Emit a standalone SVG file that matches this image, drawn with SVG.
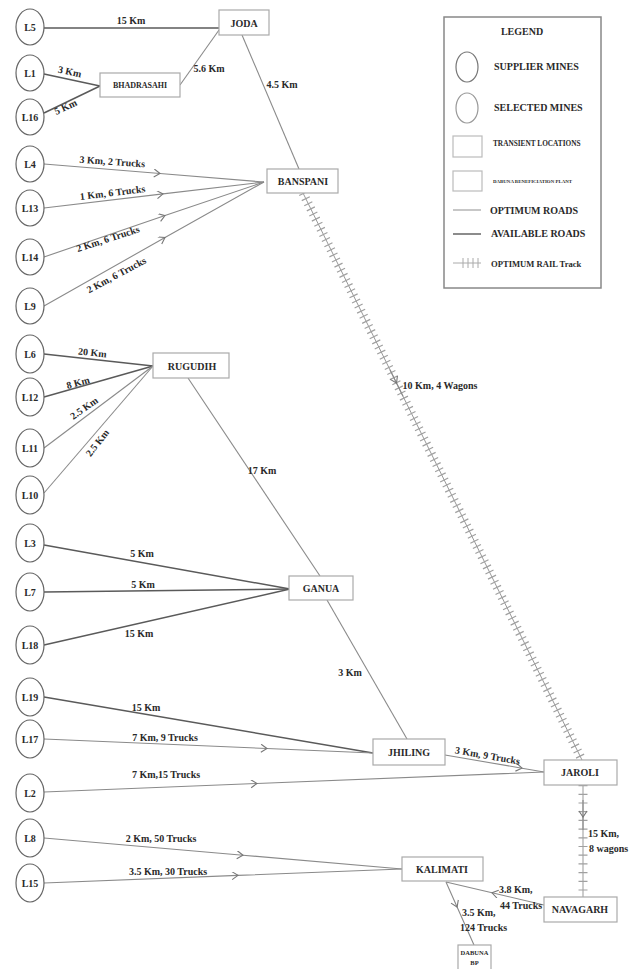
<svg xmlns="http://www.w3.org/2000/svg" width="635" height="969" viewBox="0 0 635 969">
<style>
text{font-family:"Liberation Serif","Times New Roman",serif;font-weight:bold;fill:#2a2a2a}
.n{font-size:10px;text-anchor:middle}
.lb{font-size:10px;text-anchor:middle}
.mine ellipse{fill:#fff;stroke:#666;stroke-width:1.2}
.box rect{fill:#fff;stroke:#aaa;stroke-width:1.2}
.opt{fill:none;stroke:#8a8a8a;stroke-width:1.1}
.avl{fill:none;stroke:#5a5a5a;stroke-width:1.5}
.arr{marker-mid:url(#chev)}
.railc{fill:none;stroke:#999;stroke-width:1}
.railt{fill:none;stroke:#a0a0a0;stroke-width:9;stroke-dasharray:1.2 4.5}
</style>
<defs>
<marker id="chev" markerWidth="10" markerHeight="10" refX="7" refY="4" orient="auto" markerUnits="userSpaceOnUse">
<path d="M1,0 L7,4 L1,8" fill="none" stroke="#777" stroke-width="1.1"/>
</marker>
</defs>
<rect width="635" height="969" fill="#fff"/>

<g id="connectors">
<path class="avl" d="M44,28 L219,28"/>
<path class="opt" d="M219,30 L180,85"/>
<path class="avl" d="M44,74 L100,86"/>
<path class="avl" d="M44,113 L100,86"/>
<path class="opt" d="M242,35 L299,169"/>
<path class="opt arr" d="M44,164 L160,173.5 L264,182"/>
<path class="opt arr" d="M44,208 L163,193.9 L264,182"/>
<path class="opt arr" d="M44,257 L165,215.6 L264,182"/>
<path class="opt arr" d="M44,306 L165,237.5 L264,182"/>
<path class="railc" d="M303,193 L582,760"/>
<path class="railt" d="M303,193 L582,760"/>
<path class="opt arr" d="M390,369.8 L396.5,383 L403,396.2" stroke="none"/>
<path class="avl" d="M44,354 L153,366"/>
<path class="avl" d="M44,397 L153,366"/>
<path class="opt" d="M44,448 L153,366"/>
<path class="opt" d="M44,493 L153,366"/>
<path class="opt" d="M188,378 L320,576"/>
<path class="opt" d="M327,600 L407,739"/>
<path class="avl" d="M44,545 L290,589"/>
<path class="avl" d="M44,592 L290,589"/>
<path class="avl" d="M44,645 L290,589"/>
<path class="avl" d="M44,697 L373,753"/>
<path class="opt arr" d="M44,739 L267,748.5 L373,753"/>
<path class="opt arr" d="M445,755 L522,768.2 L544,772"/>
<path class="opt arr" d="M44,792 L257,783.5 L544,772"/>
<path class="railc" d="M583,785 L583,897"/>
<path class="railt" d="M583,785 L583,897" style="stroke-dasharray:1.2 7.5"/>
<path class="opt arr" d="M583,800 L583,817 L583,830" stroke="none"/>
<path class="opt arr" d="M44,838 L243,855.2 L402,869"/>
<path class="opt arr" d="M44,883 L238,875.4 L402,869"/>
<path class="opt arr" d="M544,905 L492,892.8 L446,882"/>
<path class="opt arr" d="M446,882 L457.1,907 L474,945"/>
</g>

<g id="edge-labels">
<text class="lb" x="131" y="24">15 Km</text>
<text class="lb" x="209" y="72">5.6 Km</text>
<text class="lb" x="282" y="88">4.5 Km</text>
<text class="lb" transform="translate(69,75) rotate(12)">3 Km</text>
<text class="lb" transform="translate(67,110) rotate(-25)">5 Km</text>
<text class="lb" transform="translate(112,165) rotate(4)">3 Km, 2 Trucks</text>
<text class="lb" transform="translate(113,196) rotate(-7)">1 Km, 6 Trucks</text>
<text class="lb" transform="translate(109,242) rotate(-18)">2 Km, 6 Trucks</text>
<text class="lb" transform="translate(118,278) rotate(-28)">2 Km, 6 Trucks</text>
<text class="lb" x="440" y="389">10 Km, 4 Wagons</text>
<text class="lb" transform="translate(92,356) rotate(6)">20 Km</text>
<text class="lb" transform="translate(79,386) rotate(-15)">8 Km</text>
<text class="lb" transform="translate(86,411) rotate(-35)">2.5 Km</text>
<text class="lb" transform="translate(100,445) rotate(-52)">2.5 Km</text>
<text class="lb" x="262" y="474">17 Km</text>
<text class="lb" x="142" y="557">5 Km</text>
<text class="lb" x="143" y="588">5 Km</text>
<text class="lb" x="139" y="637">15 Km</text>
<text class="lb" x="350" y="676">3 Km</text>
<text class="lb" x="146" y="711">15 Km</text>
<text class="lb" x="165" y="741">7 Km, 9 Trucks</text>
<text class="lb" x="166" y="778">7 Km,15 Trucks</text>
<text class="lb" transform="translate(487,759) rotate(10)">3 Km, 9 Trucks</text>
<text class="lb" x="161" y="842">2 Km, 50 Trucks</text>
<text class="lb" x="168" y="875">3.5 Km, 30 Trucks</text>
<text x="588" y="837" font-size="10">15 Km,</text>
<text x="589" y="852" font-size="10">8 wagons</text>
<text x="499" y="893" font-size="10">3.8 Km,</text>
<text x="500" y="909" font-size="10">44 Trucks</text>
<text x="462" y="916" font-size="10">3.5 Km,</text>
<text x="460" y="931" font-size="10">124 Trucks</text>
</g>

<g id="L5" class="mine"><ellipse cx="30" cy="27" rx="14" ry="18"/><text class="n" x="30" y="31">L5</text></g>
<g id="L1" class="mine"><ellipse cx="30" cy="73" rx="14" ry="18"/><text class="n" x="30" y="77">L1</text></g>
<g id="L16" class="mine"><ellipse cx="30" cy="117" rx="14" ry="18"/><text class="n" x="30" y="121">L16</text></g>
<g id="L4" class="mine"><ellipse cx="30" cy="164" rx="14" ry="18"/><text class="n" x="30" y="168">L4</text></g>
<g id="L13" class="mine"><ellipse cx="30" cy="208" rx="14" ry="18"/><text class="n" x="30" y="212">L13</text></g>
<g id="L14" class="mine"><ellipse cx="30" cy="257" rx="14" ry="18"/><text class="n" x="30" y="261">L14</text></g>
<g id="L9" class="mine"><ellipse cx="30" cy="306" rx="14" ry="18"/><text class="n" x="30" y="310">L9</text></g>
<g id="L6" class="mine"><ellipse cx="30" cy="354" rx="14" ry="19"/><text class="n" x="30" y="358">L6</text></g>
<g id="L12" class="mine"><ellipse cx="30" cy="397" rx="14" ry="19"/><text class="n" x="30" y="401">L12</text></g>
<g id="L11" class="mine"><ellipse cx="30" cy="448" rx="14" ry="19"/><text class="n" x="30" y="452">L11</text></g>
<g id="L10" class="mine"><ellipse cx="30" cy="495" rx="14" ry="19"/><text class="n" x="30" y="499">L10</text></g>
<g id="L3" class="mine"><ellipse cx="30" cy="543" rx="14" ry="19"/><text class="n" x="30" y="547">L3</text></g>
<g id="L7" class="mine"><ellipse cx="30" cy="592" rx="14" ry="19"/><text class="n" x="30" y="596">L7</text></g>
<g id="L18" class="mine"><ellipse cx="30" cy="645" rx="14" ry="19"/><text class="n" x="30" y="649">L18</text></g>
<g id="L19" class="mine"><ellipse cx="30" cy="697" rx="14" ry="19"/><text class="n" x="30" y="701">L19</text></g>
<g id="L17" class="mine"><ellipse cx="30" cy="739" rx="14" ry="19"/><text class="n" x="30" y="743">L17</text></g>
<g id="L2" class="mine"><ellipse cx="30" cy="793" rx="14" ry="19"/><text class="n" x="30" y="797">L2</text></g>
<g id="L8" class="mine"><ellipse cx="30" cy="838" rx="14" ry="19"/><text class="n" x="30" y="842">L8</text></g>
<g id="L15" class="mine"><ellipse cx="30" cy="883" rx="14" ry="19"/><text class="n" x="30" y="887">L15</text></g>

<g id="JODA" class="box"><rect x="219" y="10" width="50" height="25"/><text class="n" x="244" y="27">JODA</text></g>
<g id="BHADRASAHI" class="box"><rect x="100" y="73" width="80" height="24"/><text class="n" x="140" y="88" style="font-size:8px">BHADRASAHI</text></g>
<g id="BANSPANI" class="box"><rect x="267" y="169" width="71" height="24"/><text class="n" x="303" y="185">BANSPANI</text></g>
<g id="RUGUDIH" class="box"><rect x="153" y="353" width="76" height="25"/><text class="n" x="192" y="370">RUGUDIH</text></g>
<g id="GANUA" class="box"><rect x="289" y="576" width="64" height="24"/><text class="n" x="321" y="592">GANUA</text></g>
<g id="JHILING" class="box"><rect x="373" y="739" width="72" height="26"/><text class="n" x="409" y="756">JHILING</text></g>
<g id="JAROLI" class="box"><rect x="544" y="760" width="73" height="25"/><text class="n" x="580" y="776">JAROLI</text></g>
<g id="KALIMATI" class="box"><rect x="402" y="857" width="81" height="24"/><text class="n" x="442" y="873">KALIMATI</text></g>
<g id="NAVAGARH" class="box"><rect x="544" y="897" width="73" height="25"/><text class="n" x="580" y="913">NAVAGARH</text></g>
<g id="DABUNA_BP" class="box"><rect x="458" y="945" width="33" height="30"/><text class="n" x="474.5" y="955" style="font-size:6.5px">DABUNA</text><text class="n" x="474.5" y="965" style="font-size:6.5px">BP</text></g>

<g id="legend">
<rect x="444" y="17" width="157" height="271" fill="#fff" stroke="#888" stroke-width="1.5"/>
<text x="522" y="35" font-size="10" text-anchor="middle">LEGEND</text>
<ellipse cx="467" cy="67" rx="11" ry="15" fill="#fff" stroke="#777" stroke-width="1.2"/>
<text x="494" y="70" font-size="10">SUPPLIER MINES</text>
<ellipse cx="467" cy="108" rx="11" ry="15" fill="#fff" stroke="#999" stroke-width="1.2"/>
<text x="494" y="111" font-size="10">SELECTED MINES</text>
<rect x="453" y="136" width="29" height="21" fill="#fff" stroke="#bbb" stroke-width="1.2"/>
<text x="493" y="146" font-size="7.3">TRANSIENT LOCATIONS</text>
<rect x="453" y="171" width="29" height="20" fill="#fff" stroke="#bbb" stroke-width="1.2"/>
<text x="493" y="183" font-size="4.9">DABUNA BENEFICIATION PLANT</text>
<line x1="453" y1="210" x2="481" y2="210" stroke="#999" stroke-width="1.1"/>
<text x="490" y="214" font-size="10">OPTIMUM ROADS</text>
<line x1="453" y1="234" x2="481" y2="234" stroke="#666" stroke-width="1.5"/>
<text x="491" y="237" font-size="10">AVAILABLE ROADS</text>
<line x1="453" y1="263" x2="481" y2="263" stroke="#aaa" stroke-width="1"/>
<path d="M463,258 V268 M468,258 V268 M473,258 V268 M478,258 V268" stroke="#aaa" stroke-width="1"/>
<text x="491" y="267" font-size="8.6">OPTIMUM RAIL Track</text>
</g>
</svg>
